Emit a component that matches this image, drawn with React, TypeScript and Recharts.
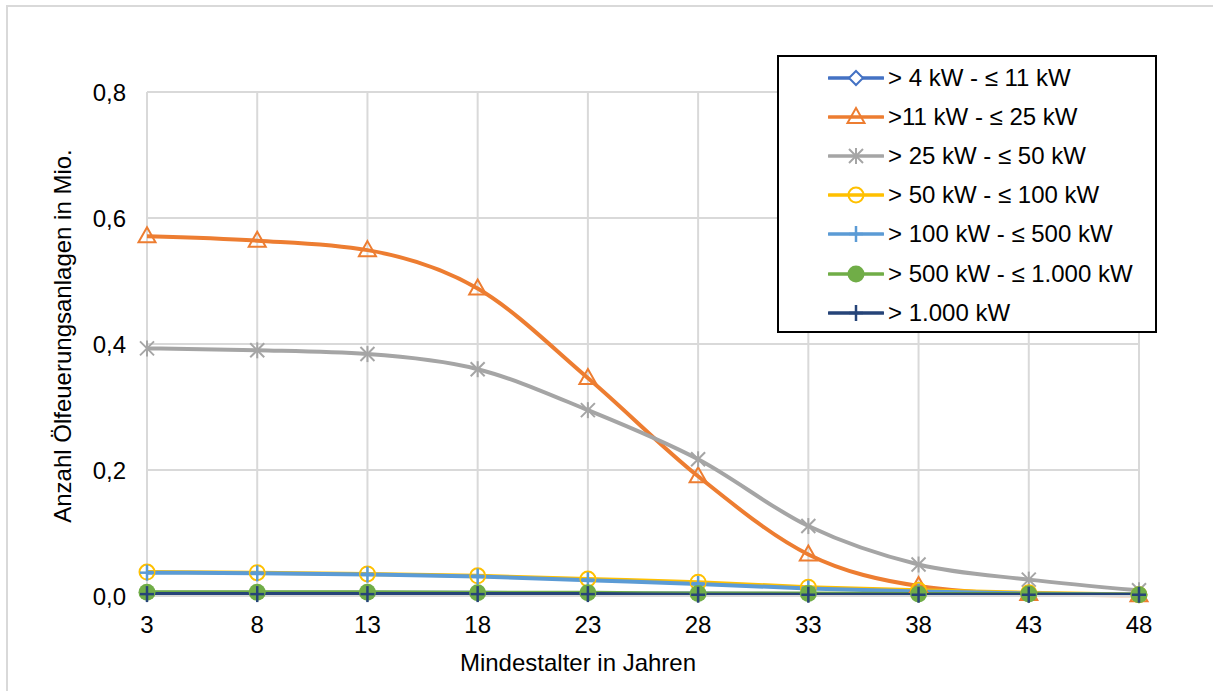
import React from 'react';
import { LineChart, Line, XAxis, YAxis, CartesianGrid } from 'recharts';

// Mindestalter (x categories)
const ages = [3, 8, 13, 18, 23, 28, 33, 38, 43, 48];

// Anzahl Ölfeuerungsanlagen in Mio. per power class
const kw4to11 = [0.005, 0.005, 0.005, 0.005, 0.004, 0.004, 0.003, 0.003, 0.002, 0.002];
const kw11to25 = [0.571, 0.564, 0.549, 0.488, 0.346, 0.19, 0.066, 0.016, 0.003, 0.001];
const kw25to50 = [0.393, 0.39, 0.384, 0.36, 0.295, 0.217, 0.111, 0.05, 0.026, 0.009];
const kw50to100 = [0.038, 0.037, 0.035, 0.032, 0.027, 0.022, 0.014, 0.009, 0.005, 0.002];
const kw100to500 = [0.037, 0.036, 0.034, 0.031, 0.025, 0.019, 0.012, 0.007, 0.004, 0.002];
const kw500to1000 = [0.006, 0.006, 0.006, 0.005, 0.005, 0.004, 0.004, 0.003, 0.003, 0.002];
const kwOver1000 = [0.003, 0.003, 0.003, 0.003, 0.003, 0.002, 0.002, 0.002, 0.002, 0.002];

const yTicks = [0, 0.2, 0.4, 0.6, 0.8];

type MarkerKind = 'diamond' | 'triangle' | 'star' | 'circle' | 'plus' | 'dot';

const SERIES: { key: string; name: string; color: string; marker: MarkerKind; values: number[] }[] = [
  { key: 's1', name: '> 4 kW - ≤ 11 kW', color: '#4472C4', marker: 'diamond', values: kw4to11 },
  { key: 's2', name: '>11 kW - ≤ 25 kW', color: '#ED7D31', marker: 'triangle', values: kw11to25 },
  { key: 's3', name: '> 25 kW - ≤ 50 kW', color: '#A5A5A5', marker: 'star', values: kw25to50 },
  { key: 's4', name: '> 50 kW - ≤ 100 kW', color: '#FFC000', marker: 'circle', values: kw50to100 },
  { key: 's5', name: '> 100 kW - ≤ 500 kW', color: '#5B9BD5', marker: 'plus', values: kw100to500 },
  { key: 's6', name: '> 500 kW - ≤ 1.000 kW', color: '#70AD47', marker: 'dot', values: kw500to1000 },
  { key: 's7', name: '> 1.000 kW', color: '#264478', marker: 'plus', values: kwOver1000 },
];

const data = ages.map((age, i) => {
  const row: Record<string, number> = { age };
  SERIES.forEach(s => { row[s.key] = s.values[i]; });
  return row;
});

const FONT = '"Liberation Sans", Arial, sans-serif';

function Marker({ kind, cx, cy, color }: { kind: MarkerKind; cx: number; cy: number; color: string }) {
  switch (kind) {
    case 'diamond':
      return <polygon points={`${cx},${cy - 7} ${cx + 7},${cy} ${cx},${cy + 7} ${cx - 7},${cy}`} fill="#fff" stroke={color} strokeWidth={2} />;
    case 'triangle':
      return <polygon points={`${cx},${cy - 9} ${cx + 8.5},${cy + 6} ${cx - 8.5},${cy + 6}`} fill="none" stroke={color} strokeWidth={2} />;
    case 'star':
      return (
        <g stroke={color} strokeWidth={2}>
          <line x1={cx - 7} y1={cy - 7} x2={cx + 7} y2={cy + 7} />
          <line x1={cx - 7} y1={cy + 7} x2={cx + 7} y2={cy - 7} />
          <line x1={cx} y1={cy - 8} x2={cx} y2={cy + 8} />
        </g>
      );
    case 'circle':
      return <circle cx={cx} cy={cy} r={7.5} fill="none" stroke={color} strokeWidth={2} />;
    case 'plus':
      return (
        <g stroke={color} strokeWidth={2.5}>
          <line x1={cx - 7} y1={cy} x2={cx + 7} y2={cy} />
          <line x1={cx} y1={cy - 8} x2={cx} y2={cy + 8} />
        </g>
      );
    case 'dot':
      return <circle cx={cx} cy={cy} r={8.5} fill={color} stroke="none" />;
  }
  return null;
}

const fmt = (v: number) => v.toFixed(1).replace('.', ',');

export default function App() {
  return (
    <div style={{ position: 'absolute', left: 0, top: 0, width: 1213, height: 691, overflow: 'hidden', background: '#fff', fontFamily: FONT }}>
      {/* chart area border (runs off the right/bottom edge) */}
      <div style={{ position: 'absolute', left: 6, top: 5, width: 1300, height: 800, border: '2px solid #d9d9d9' }} />

      <div style={{ position: 'absolute', left: 0, top: 0 }}>
        <LineChart width={1213} height={691} data={data} margin={{ top: 92, right: 74, bottom: 55, left: 87 }}>
          <CartesianGrid stroke="#d9d9d9" strokeWidth={2} />
          <XAxis
            dataKey="age"
            interval={0}
            height={40}
            tickLine={false}
            tickSize={0}
            tickMargin={20}
            axisLine={{ stroke: '#d9d9d9', strokeWidth: 2 }}
            tick={{ fontSize: 24, fill: '#000' }}
          />
          <YAxis
            width={60}
            domain={[0, 0.8]}
            ticks={yTicks}
            tickFormatter={fmt}
            tickLine={false}
            axisLine={false}
            tickSize={0}
            tickMargin={21}
            tick={{ fontSize: 24, fill: '#000' }}
          />
          {SERIES.map(s => (
            <Line
              key={s.key}
              type="monotone"
              dataKey={s.key}
              name={s.name}
              stroke={s.color}
              strokeWidth={4}
              isAnimationActive={false}
              dot={(p: any) => <Marker key={`${s.key}-${p.index}`} kind={s.marker} cx={p.cx} cy={p.cy} color={s.color} />}
              activeDot={false}
            />
          ))}
        </LineChart>
      </div>

      {/* axis titles */}
      <div style={{ position: 'absolute', left: 0, top: 651, width: 1156, textAlign: 'center', fontSize: 24, lineHeight: '24px', color: '#000', whiteSpace: 'nowrap' }}>
        Mindestalter in Jahren
      </div>
      <div style={{ position: 'absolute', left: 63, top: 336, transform: 'translate(-50%, -50%) rotate(-90deg)', fontSize: 24, lineHeight: '24px', color: '#000', whiteSpace: 'nowrap' }}>
        Anzahl Ölfeuerungsanlagen in Mio.
      </div>

      {/* legend */}
      <div style={{ position: 'absolute', left: 777, top: 55, width: 380, height: 278, boxSizing: 'border-box', border: '2px solid #000', background: '#fff', paddingTop: 1 }}>
        {SERIES.map(s => (
          <div key={s.key} style={{ display: 'flex', alignItems: 'center', height: 39.2 }}>
            <svg width={56} height={24} style={{ marginLeft: 49, flex: 'none' }}>
              <line x1={1} y1={12} x2={55} y2={12} stroke={s.color} strokeWidth={3.5} strokeLinecap="round" />
              <Marker kind={s.marker} cx={28} cy={12} color={s.color} />
            </svg>
            <span style={{ marginLeft: 4, fontSize: 24, color: '#000', whiteSpace: 'nowrap' }}>{s.name}</span>
          </div>
        ))}
      </div>
    </div>
  );
}
